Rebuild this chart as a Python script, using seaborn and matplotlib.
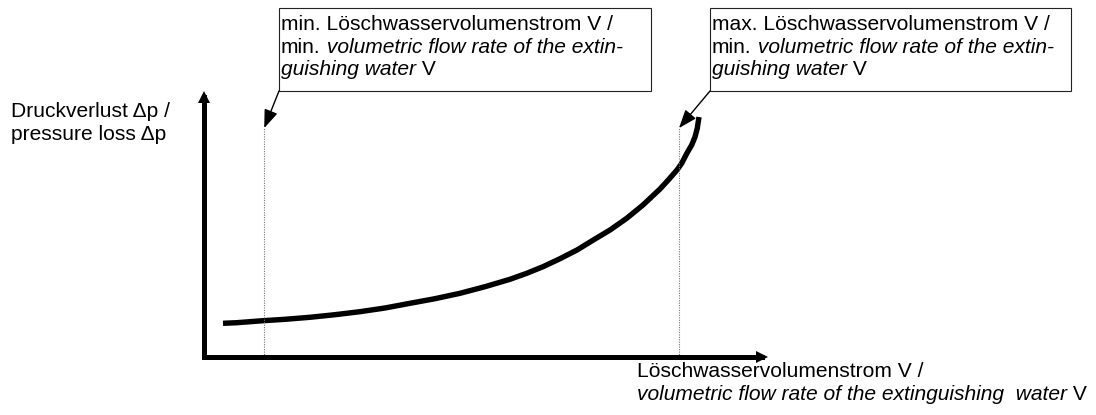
import matplotlib
matplotlib.use("Agg")
import matplotlib.pyplot as plt
from matplotlib.patches import Rectangle
import seaborn as sns

# ---- data (schematic curve, arbitrary units 0..100) ----
flow = [3.41, 5.87, 10.58, 14.53, 19.01, 23.50, 27.98, 32.47, 36.95, 41.43,
        45.92, 50.40, 54.89, 57.88, 60.81, 63.86, 66.91, 69.83, 72.83, 75.82,
        78.74, 81.79, 83.28, 84.84, 85.69, 86.64, 87.48, 88.07, 88.48, 88.79]
pressure_loss = [12.82, 13.05, 13.82, 14.36, 15.14, 16.14, 17.30, 18.73, 20.54, 22.32,
                 24.40, 26.95, 29.81, 32.12, 34.67, 37.76, 41.12, 44.98, 48.84, 53.36,
                 58.49, 64.67, 68.15, 72.01, 74.59, 78.57, 81.66, 84.75, 88.11, 92.47]
flow_min = 10.8
flow_max = 85.2
marker_top = 88.2

y_label = [[("Druckverlust \u0394p /", "normal")],
           [("pressure loss \u0394p", "normal")]]
x_label = [[("Löschwasservolumenstrom V /", "normal")],
           [("volumetric flow rate of the extinguishing  water", "italic"), (" V", "normal")]]
box_min = [[("min. Löschwasservolumenstrom V /", "normal")],
           [("min.", "normal"), (" volumetric flow rate of the extin-", "italic")],
           [("guishing water", "italic"), (" V", "normal")]]
box_max = [[("max. Löschwasservolumenstrom V /", "normal")],
           [("min.", "normal"), (" volumetric flow rate of the extin-", "italic")],
           [("guishing water", "italic"), (" V", "normal")]]

sns.set_style("white")
plt.rcParams["font.family"] = ["Liberation Sans", "DejaVu Sans"]
FS = 15.1

W, H = 1096, 415
fig = plt.figure(figsize=(W / 100, H / 100), dpi=100)
fig.patch.set_facecolor("white")

# main axes (origin at px 204,356.5 ; arrow tips around px 767 / 92)
x0, y0, x1, y1 = 204, 356.5, 761.5, 97.5
ax = fig.add_axes([x0 / W, (H - y0) / H, (x1 - x0) / W, (y0 - y1) / H])
ax.set_xlim(0, 100)
ax.set_ylim(0, 100)
ax.set_xticks([])
ax.set_yticks([])
ax.patch.set_alpha(0)
for s in ["top", "right"]:
    ax.spines[s].set_visible(False)
for s in ["left", "bottom"]:
    ax.spines[s].set_linewidth(3.6)
    ax.spines[s].set_color("black")
    ax.spines[s].set_capstyle("projecting")
ax.plot(1, 0, ">", transform=ax.transAxes, clip_on=False, ms=8, mew=0, color="black")
ax.plot(0, 1, "^", transform=ax.transAxes, clip_on=False, ms=8, mew=0, color="black")

sns.lineplot(x=flow, y=pressure_loss, ax=ax, color="black", lw=3.9,
             sort=False, estimator=None, solid_capstyle="butt",
             solid_joinstyle="round")
ax.vlines([flow_min, flow_max], 0, marker_top, color="#777777", lw=0.8,
          linestyles=[(0, (1, 1.2))])

# overlay in pixel coordinates for annotations
ov = fig.add_axes([0, 0, 1, 1], zorder=5)
ov.set_xlim(0, W)
ov.set_ylim(H, 0)
ov.axis("off")

renderer = fig.canvas.get_renderer()


def draw_lines(x, baselines, lines):
    for yb, runs in zip(baselines, lines):
        cx = x
        for txt, style in runs:
            t = ov.text(cx, yb, txt, fontsize=FS, fontstyle=style, ha="left",
                        va="baseline", color="black")
            bb = t.get_window_extent(renderer=renderer)
            cx += bb.width


# boxes
for (bx0, bx1), lines in [((279, 651), box_min), ((710, 1071), box_max)]:
    ov.add_patch(Rectangle((bx0, 8), bx1 - bx0, 83, fill=True, facecolor="white",
                           edgecolor="#222222", lw=0.8))
    draw_lines(bx0 + 2, [30, 53, 75], lines)

# annotation arrows from boxes to markers
for fx, (sx, sy) in [(flow_min, (279, 91)), (flow_max, (710, 91))]:
    ov.annotate("", xy=(fx, marker_top), xycoords=ax.transData,
                xytext=(sx, sy), textcoords=ov.transData,
                arrowprops=dict(arrowstyle="-|>,head_length=0.8,head_width=0.3",
                                color="black", lw=1.0, mutation_scale=14,
                                shrinkA=0, shrinkB=0))

draw_lines(11, [117, 140], y_label)
draw_lines(637, [377, 400], x_label)

fig.savefig("out.png", dpi=100, facecolor="white")
